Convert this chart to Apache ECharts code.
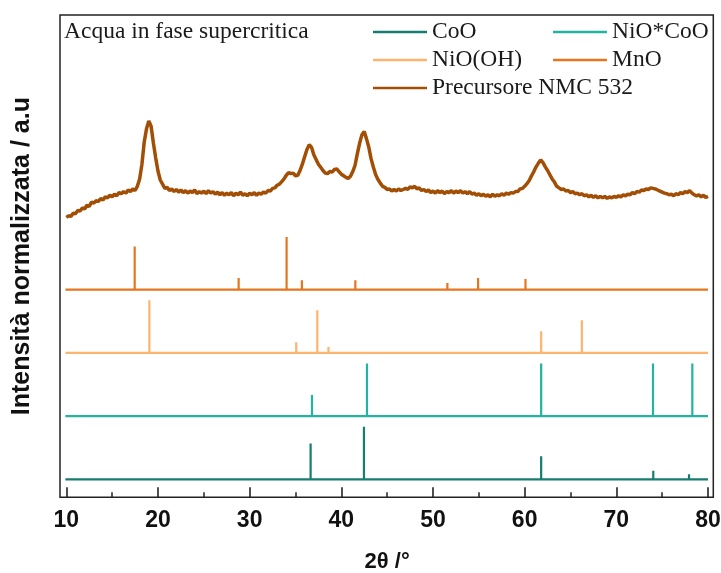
<!DOCTYPE html>
<html>
<head>
<meta charset="utf-8">
<script src="https://cdn.jsdelivr.net/npm/echarts@6/dist/echarts.min.js"></script>
<style>html,body{margin:0;padding:0;background:#fff;}#c{width:721px;height:573px;}</style>
</head>
<body>
<div id="c"></div>
<script>
// ---- data ----
const xTickMin = 10, xTickMax = 80, xTickStep = 10;

const cooPos = [36.65, 42.47, 61.8, 74.03, 77.93];
const cooInt = [68, 100, 44, 16.5, 9.5];
const niocooPos = [36.8, 42.8, 61.8, 74.0, 78.29];
const niocooInt = [40, 100, 100, 100, 100];
const niooohPos = [19.06, 35.08, 37.38, 38.6, 61.8, 66.24];
const niooohInt = [100, 20, 81, 11, 41, 62];
const mnoPos = [17.46, 28.8, 34.03, 35.7, 41.53, 51.57, 54.92, 60.09];
const mnoInt = [82, 22, 100, 17.6, 17.6, 12.7, 22, 20.3];

// precursor pattern: 2theta from 10 to 80, step 0.25
const precStart = 10, precStep = 0.25;
const precInt = [
17,20,19,25,24,30,29,35,33,40,38,46,44,49,47,53,50,56,54,59,
56,61,58,64,62,66,63,69,66,71,68,76,90,118,160,185,200,190,158,130,
105,88,80,72,74,68,71,66,70,65,69,64,68,63,67,64,69,62,66,63,
67,62,68,63,66,61,65,60,64,59,63,60,64,58,63,60,65,59,62,58,
63,60,64,59,63,61,65,63,68,67,72,73,78,80,85,90,97,102,100,101,
96,97,106,118,132,146,155,150,136,127,118,112,106,101,100,104,103,108,109,104,
99,96,93,91,95,104,116,138,158,174,180,166,150,128,112,98,89,82,76,74,
70,71,67,70,67,71,68,70,72,70,75,73,76,71,73,68,70,66,69,64,
67,63,68,64,67,62,66,64,68,63,67,64,68,63,66,62,66,61,63,59,
62,58,61,57,60,56,61,57,60,58,62,59,63,61,64,63,66,66,71,72,
76,81,87,96,104,113,120,126,121,113,106,98,90,84,76,73,70,71,67,68,
64,66,62,63,60,62,58,60,56,59,55,58,54,57,54,57,53,56,54,57,
55,58,56,60,58,61,60,64,62,66,65,69,68,71,70,73,72,71,69,67,
65,63,62,60,61,58,62,60,64,62,66,64,68,63,60,58,60,56,59,55,57
];

const offsets = { coo: 0, niocoo: 120, nioooh: 240, mno: 360, prec: 480 };
const colors = { coo: '#177d70', niocoo: '#24b3a0', nioooh: '#fdb46f', mno: '#e5761f', prec: '#a24f05' };
const names = { coo: 'CoO', niocoo: 'NiO*CoO', nioooh: 'NiO(OH)', mno: 'MnO', prec: 'Precursore NMC 532' };
const stickStart = 9.9, stickEnd = 80.0;

function sticks(pos, ints, off) {
  const d = [[stickStart, off]];
  pos.forEach((p, i) => { d.push([p, off]); d.push([p, off + ints[i]]); d.push([p, off]); });
  d.push([stickEnd, off]);
  return d;
}
const precData = precInt.map((v, i) => [precStart + i * precStep, v + offsets.prec]);

function lineSeries(key, data, w) {
  return { name: names[key], type: 'line', data: data, showSymbol: false, symbol: 'none', clip: false,
    lineStyle: { color: colors[key], width: w }, itemStyle: { color: colors[key] },
    animation: false, silent: true };
}

const chart = echarts.init(document.getElementById('c'), null, { renderer: 'canvas' });
const legendText = { fontFamily: 'Liberation Serif', fontSize: 23.5, color: '#1a1a1a', lineHeight: 24 };
chart.setOption({
  animation: false,
  backgroundColor: '#fff',
  title: { text: 'Acqua in fase supercritica', left: 64, top: 20, padding: 0,
    textStyle: { fontFamily: 'Liberation Serif', fontSize: 23.5, fontWeight: 'normal', color: '#1a1a1a', lineHeight: 24 } },
  legend: [
    { data: [names.coo, names.nioooh, names.prec], orient: 'vertical', left: 373, top: 20, padding: 0,
      icon: 'rect', itemWidth: 54, itemHeight: 2.5, itemGap: 4, textStyle: legendText },
    { data: [names.niocoo, names.mno], orient: 'vertical', left: 553, top: 20, padding: 0,
      icon: 'rect', itemWidth: 54, itemHeight: 2.5, itemGap: 4, textStyle: legendText }
  ],
  graphic: [
    { type: 'rect', z: 100, silent: true,
      shape: { x: 60, y: 15, width: 653.3, height: 482.3 },
      style: { fill: 'none', stroke: '#222', lineWidth: 1.5 } }
  ],
  grid: { left: 66.3, right: 13, top: 15, bottom: 75.7, containLabel: false, outerBoundsMode: 'none' },
  xAxis: { type: 'value', min: xTickMin, max: xTickMax, interval: xTickStep,
      name: '2θ /°', nameLocation: 'middle', nameGap: 54,
      nameTextStyle: { fontFamily: 'Liberation Sans', fontWeight: 'bold', fontSize: 22, color: '#111' },
      axisLine: { show: false, onZero: false },
      axisTick: { show: true, inside: true, length: 10, lineStyle: { color: '#222', width: 1.6 } },
      minorTick: { show: true, splitNumber: 2, length: 5, lineStyle: { color: '#222', width: 1.5 } },
      axisLabel: { show: true, margin: 12,
        fontFamily: 'Liberation Sans', fontWeight: 'bold', fontSize: 23, color: '#111' },
      splitLine: { show: false }, minorSplitLine: { show: false } },
  yAxis: { type: 'value', min: -34, max: 881,
    name: 'Intensità normalizzata / a.u', nameLocation: 'middle', nameGap: 31.3, nameRotate: 90,
    nameTextStyle: { fontFamily: 'Liberation Sans', fontWeight: 'bold', fontSize: 25, color: '#111' },
    axisLine: { show: false, onZero: false },
    axisTick: { show: false }, axisLabel: { show: false }, splitLine: { show: false } },
  series: [
    lineSeries('coo', sticks(cooPos, cooInt, offsets.coo), 2.2),
    lineSeries('niocoo', sticks(niocooPos, niocooInt, offsets.niocoo), 2.2),
    lineSeries('nioooh', sticks(niooohPos, niooohInt, offsets.nioooh), 2.2),
    lineSeries('mno', sticks(mnoPos, mnoInt, offsets.mno), 2.2),
    lineSeries('prec', precData, 3.5)
  ]
});
</script>
</body>
</html>
